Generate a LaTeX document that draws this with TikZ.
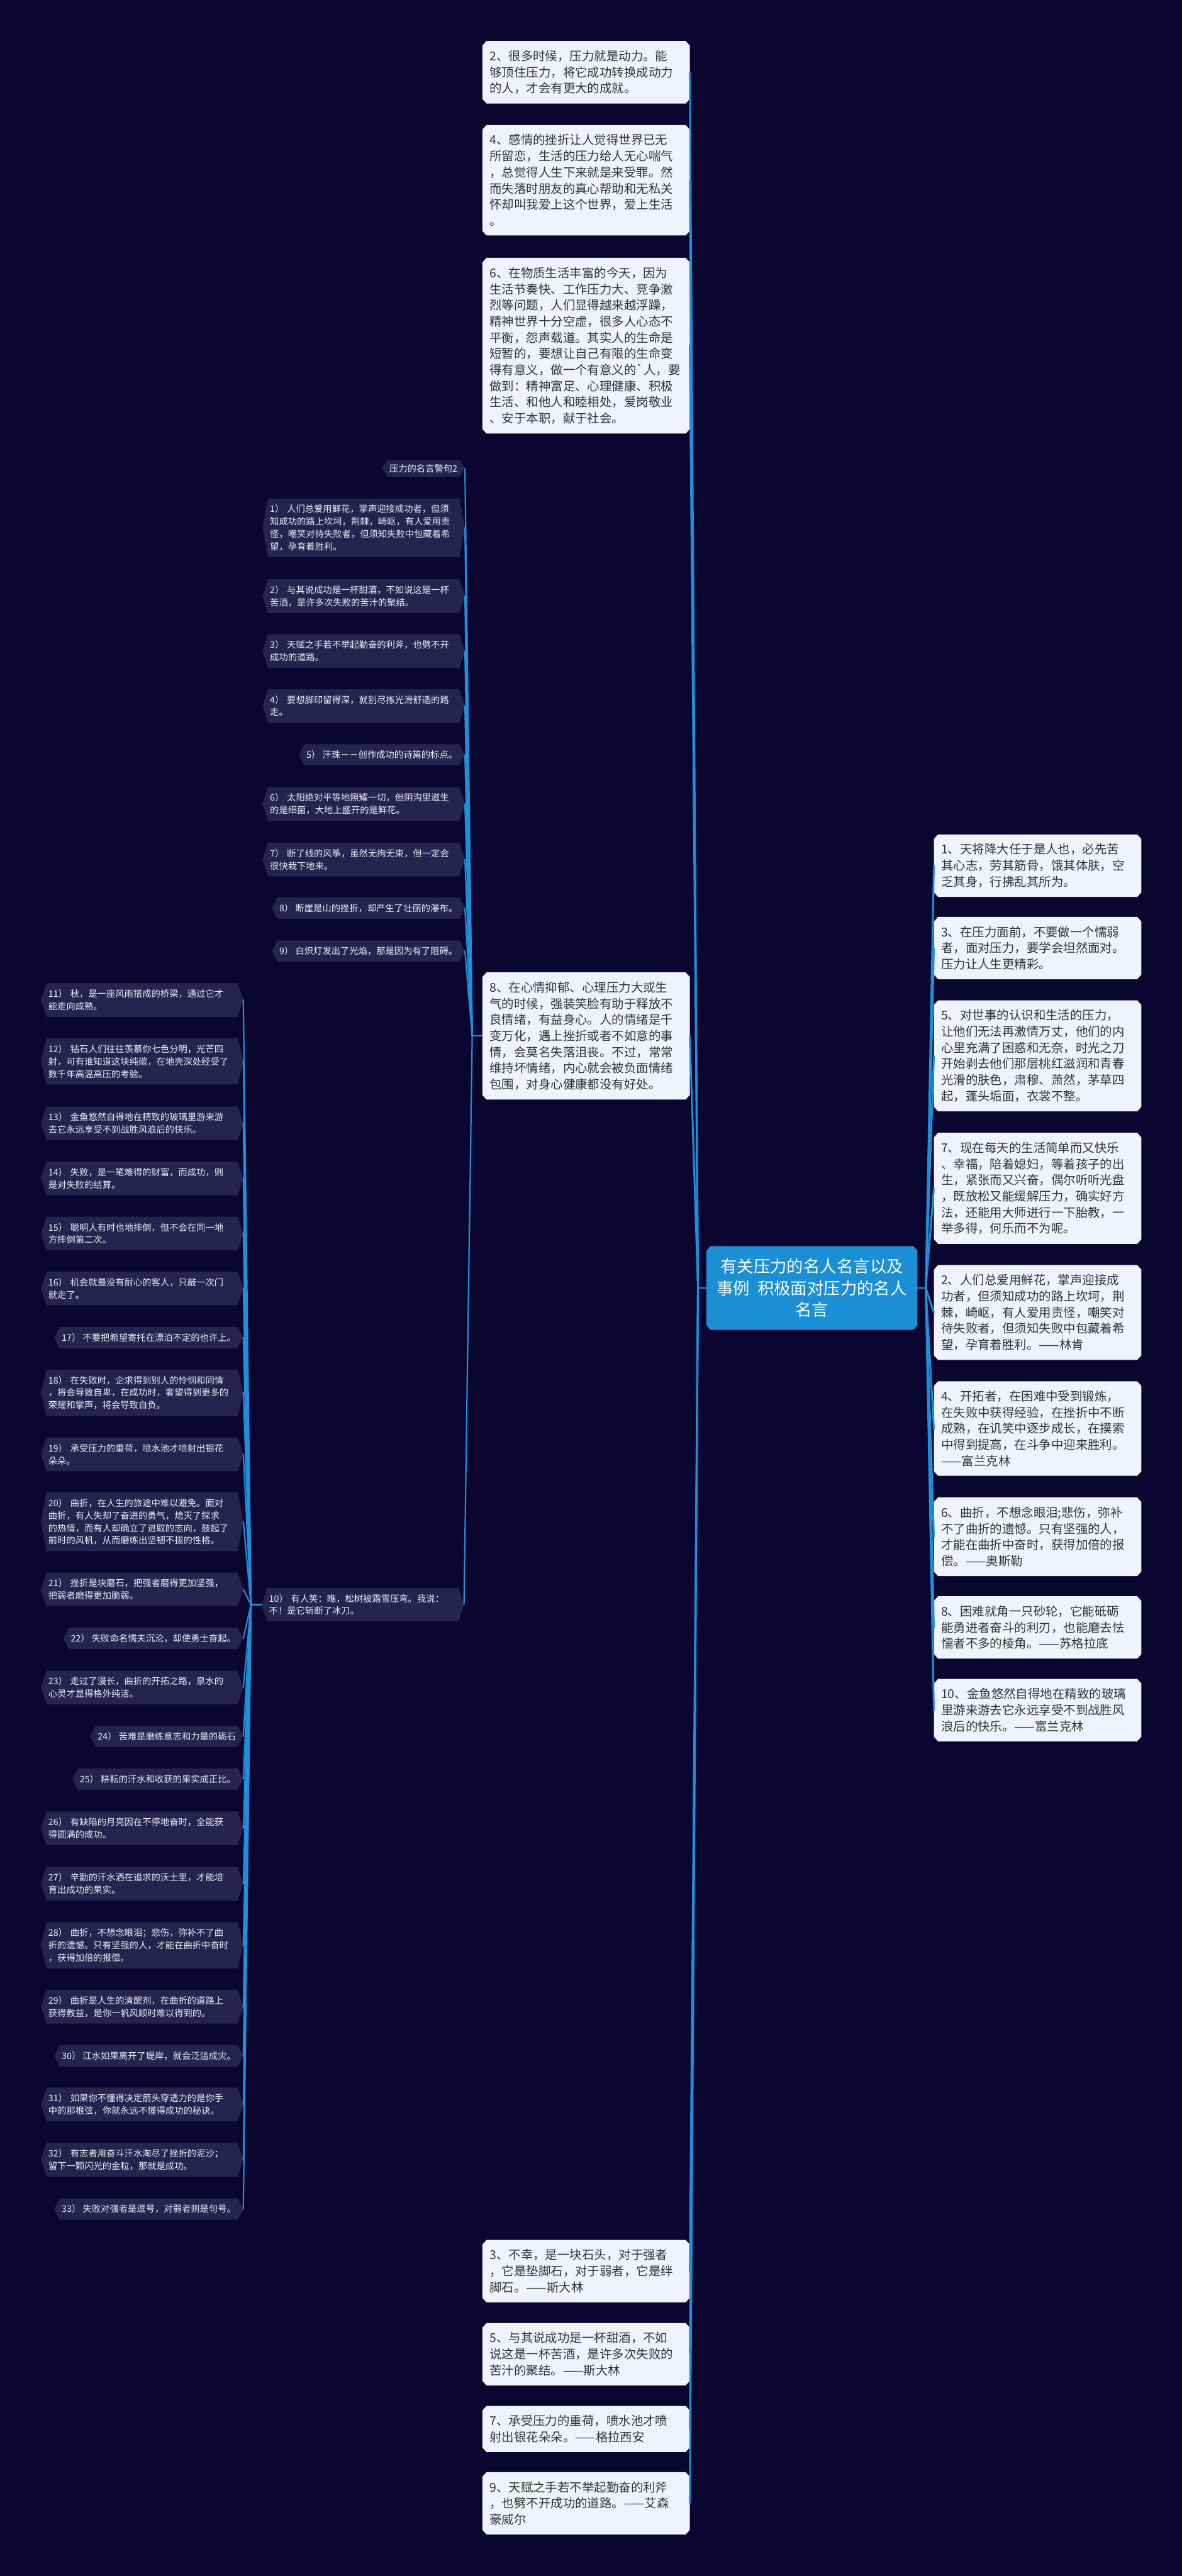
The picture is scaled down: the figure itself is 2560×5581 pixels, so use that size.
\documentclass[tikz,border=0pt]{standalone}
\usepackage{fontspec}
\setmainfont{Noto Sans CJK SC}
\usepackage{tikz}
\usetikzlibrary{calc}
\definecolor{night}{HTML}{0A0630}
\definecolor{paper}{HTML}{EEF3FD}
\definecolor{ink}{HTML}{333333}
\definecolor{slate}{HTML}{26234F}
\definecolor{chalk}{HTML}{F0F0F5}
\definecolor{wire}{HTML}{1E8FD8}
\definecolor{hub}{HTML}{1A8FD6}
\pgfdeclarelayer{bg}
\pgfdeclarelayer{boxes}
\pgfsetlayers{bg,boxes,main}
\tikzset{
  root/.style  = {text=white, font=\fontsize{36}{47}\selectfont, align=center,
                  minimum width=457pt, minimum height=181pt, inner sep=0pt},
  card/.style  = {text=ink, font=\fontsize{26.5}{35}\selectfont, text width=418pt,
                  align=left, inner xsep=15.5pt, inner ysep=20pt},
  quote/.style = {text=chalk, font=\fontsize{19.5}{27}\selectfont, align=left,
                  inner xsep=16pt, inner ysep=13.5pt, anchor=east},
  long/.style  = {text width=406pt},
  link/.style  = {draw=wire, line width=4pt, line cap=round},
  twig/.style  = {draw=wire, line width=3pt, line cap=round},
}
% cut-corner card behind a node
\newcommand\cardfill[2]{%
  \begin{pgfonlayer}{boxes}
    \fill[#2] ([xshift=9pt]#1.north west) -- ([xshift=-9pt]#1.north east)
      -- ([yshift=-10pt]#1.north east) -- ([yshift=10pt]#1.south east)
      -- ([xshift=-9pt]#1.south east) -- ([xshift=9pt]#1.south west)
      -- ([yshift=10pt]#1.south west) -- ([yshift=-10pt]#1.north west) -- cycle;
  \end{pgfonlayer}}
% pointed hexagon behind a node
\newcommand\hexfill[1]{%
  \begin{pgfonlayer}{boxes}
    \fill[slate] ([xshift=12pt]#1.north west) -- ([xshift=-12pt]#1.north east)
      -- (#1.east) -- ([xshift=-12pt]#1.south east)
      -- ([xshift=12pt]#1.south west) -- (#1.west) -- cycle;
  \end{pgfonlayer}}

\begin{document}
\begin{tikzpicture}[x=1pt,y=-1pt]
  \begin{pgfonlayer}{bg}
    \fill[night] (0,0) rectangle (2560,5581);
  \end{pgfonlayer}
  \useasboundingbox (0,0) rectangle (2560,5581);
  % root
  \node[root] (root) at (1758.5,2790.5) {有关压力的名人名言以及\\事例\ \ 积极面对压力的名人\\名言};
  \cardfill{root}{hub}
  % left cards
  \node[card] (a2) at (1269.5,156.5) {2、很多时候，压力就是动力。能\\够顶住压力，将它成功转换成动力\\的人，才会有更大的成就。};
  \node[card] (a4) at (1269.5,390.5) {4、感情的挫折让人觉得世界已无\\所留恋，生活的压力给人无心喘气\\，总觉得人生下来就是来受罪。然\\而失落时朋友的真心帮助和无私关\\怀却叫我爱上这个世界，爱上生活\\。};
  \node[card] (a6) at (1269.5,749) {6、在物质生活丰富的今天，因为\\生活节奏快、工作压力大、竞争激\\烈等问题，人们显得越来越浮躁，\\精神世界十分空虚，很多人心态不\\平衡，怨声载道。其实人的生命是\\短暂的，要想让自己有限的生命变\\得有意义，做一个有意义的\textasciigrave 人，要\\做到：精神富足、心理健康、积极\\生活、和他人和睦相处，爱岗敬业\\、安于本职，献于社会。};
  \node[card] (a8) at (1269.5,2244.5) {8、在心情抑郁、心理压力大或生\\气的时候，强装笑脸有助于释放不\\良情绪，有益身心。人的情绪是千\\变万化，遇上挫折或者不如意的事\\情，会莫名失落沮丧。不过，常常\\维持坏情绪，内心就会被负面情绪\\包围，对身心健康都没有好处。};
  \node[card] (b3) at (1269.5,4920.5) {3、不幸，是一块石头，对于强者\\，它是垫脚石，对于弱者，它是绊\\脚石。——斯大林};
  \node[card] (b5) at (1269.5,5100.5) {5、与其说成功是一杯甜酒，不如\\说这是一杯苦酒，是许多次失败的\\苦汁的聚结。——斯大林};
  \node[card] (b7) at (1269.5,5262.5) {7、承受压力的重荷，喷水池才喷\\射出银花朵朵。——格拉西安};
  \node[card] (b9) at (1269.5,5423.5) {9、天赋之手若不举起勤奋的利斧\\，也劈不开成功的道路。——艾森\\豪威尔};
  % right cards
  \node[card] (r1) at (2247.5,1875.5) {1、天将降大任于是人也，必先苦\\其心志，劳其筋骨，饿其体肤，空\\乏其身，行拂乱其所为。};
  \node[card] (r3) at (2247.5,2054) {3、在压力面前，不要做一个懦弱\\者，面对压力，要学会坦然面对。\\压力让人生更精彩。};
  \node[card] (r5) at (2247.5,2287.5) {5、对世事的认识和生活的压力，\\让他们无法再激情万丈，他们的内\\心里充满了困惑和无奈，时光之刀\\开始剥去他们那层桃红滋润和青春\\光滑的肤色，肃穆、萧然，茅草四\\起，蓬头垢面，衣裳不整。};
  \node[card] (r7) at (2247.5,2574.5) {7、现在每天的生活简单而又快乐\\、幸福，陪着媳妇，等着孩子的出\\生，紧张而又兴奋，偶尔听听光盘\\，既放松又能缓解压力，确实好方\\法，还能用大师进行一下胎教，一\\举多得，何乐而不为呢。};
  \node[card] (s2) at (2247.5,2843.5) {2、人们总爱用鲜花，掌声迎接成\\功者，但须知成功的路上坎坷，荆\\棘，崎岖，有人爱用责怪，嘲笑对\\待失败者，但须知失败中包藏着希\\望，孕育着胜利。——林肯};
  \node[card] (s4) at (2247.5,3095) {4、开拓者，在困难中受到锻炼，\\在失败中获得经验，在挫折中不断\\成熟，在讥笑中逐步成长，在摸索\\中得到提高，在斗争中迎来胜利。\\——富兰克林};
  \node[card] (s6) at (2247.5,3329.5) {6、曲折，不想念眼泪;悲伤，弥补\\不了曲折的遗憾。只有坚强的人，\\才能在曲折中奋时，获得加倍的报\\偿。——奥斯勒};
  \node[card] (s8) at (2247.5,3526) {8、困难就角一只砂轮，它能砥砺\\能勇进者奋斗的利刃，也能磨去怯\\懦者不多的棱角。——苏格拉底};
  \node[card] (s10) at (2247.5,3705) {10、金鱼悠然自得地在精致的玻璃\\里游来游去它永远享受不到战胜风\\浪后的快乐。——富兰克林};
  \foreach \n in {a2,a4,a6,a8,b3,b5,b7,b9,r1,r3,r5,r7,s2,s4,s6,s8,s10}
    {\cardfill{\n}{paper}}
  % quotes under card 8
  \node[quote, inner ysep=9pt] (t0) at (1007,1015) {压力的名言警句2};
  \node[quote, long] (q1) at (1007,1143.5) {1）\ 人们总爱用鲜花，掌声迎接成功者，但须\\知成功的路上坎坷，荆棘，崎岖，有人爱用责\\怪，嘲笑对待失败者，但须知失败中包藏着希\\望，孕育着胜利。};
  \node[quote, long] (q2) at (1007,1291.5) {2）\ 与其说成功是一杯甜酒，不如说这是一杯\\苦酒，是许多次失败的苦汁的聚结。};
  \node[quote, long] (q3) at (1007,1410.5) {3）\ 天赋之手若不举起勤奋的利斧，也劈不开\\成功的道路。};
  \node[quote, long] (q4) at (1007,1529.5) {4）\ 要想脚印留得深，就别尽拣光滑舒适的路\\走。};
  \node[quote] (q5) at (1007,1635.5) {5）\ 汗珠－－创作成功的诗篇的标点。};
  \node[quote, long] (q6) at (1007,1742) {6）\ 太阳绝对平等地照耀一切，但阴沟里滋生\\的是细菌，大地上盛开的是鲜花。};
  \node[quote, long] (q7) at (1007,1862) {7）\ 断了线的风筝，虽然无拘无束，但一定会\\很快栽下地来。};
  \node[quote] (q8) at (1007,1967.5) {8）\ 断崖是山的挫折，却产生了壮丽的瀑布。};
  \node[quote] (q9) at (1007,2060.5) {9）\ 白炽灯发出了光焰，那是因为有了阻碍。};
  \node[quote, long] (q10) at (1005,3476.5) {10）\ 有人笑：瞧，松树被霜雪压弯。我说：\\不！是它斩断了冰刀。};
  % quotes under 10)
  \node[quote, long] (q11) at (527,2166.5) {11）\ 秋，是一座风雨搭成的桥梁，通过它才\\能走向成熟。};
  \node[quote, long] (q12) at (527,2299.5) {12）\ 钻石人们往往羡慕你七色分明，光芒四\\射，可有谁知道这块纯碳，在地壳深处经受了\\数千年高温高压的考验。};
  \node[quote, long] (q13) at (527,2433.5) {13）\ 金鱼悠然自得地在精致的玻璃里游来游\\去它永远享受不到战胜风浪后的快乐。};
  \node[quote, long] (q14) at (527,2553) {14）\ 失败，是一笔难得的财富，而成功，则\\是对失败的结算。};
  \node[quote, long] (q15) at (527,2672.5) {15）\ 聪明人有时也地摔倒，但不会在同一地\\方摔倒第二次。};
  \node[quote, long] (q16) at (527,2791.5) {16）\ 机会就最没有耐心的客人，只敲一次门\\就走了。};
  \node[quote] (q17) at (527,2898) {17）\ 不要把希望寄托在漂泊不定的也许上。};
  \node[quote, long] (q18) at (527,3017.5) {18）\ 在失败时，企求得到别人的怜悯和同情\\，将会导致自卑，在成功时，奢望得到更多的\\荣耀和掌声，将会导致自负。};
  \node[quote, long] (q19) at (527,3151) {19）\ 承受压力的重荷，喷水池才喷射出银花\\朵朵。};
  \node[quote, long] (q20) at (527,3297) {20）\ 曲折，在人生的旅途中难以避免。面对\\曲折，有人失却了奋进的勇气，熄灭了探求\\的热情，而有人却确立了进取的志向，鼓起了\\前时的风帆，从而磨练出坚韧不拔的性格。};
  \node[quote, long] (q21) at (527,3443.5) {21）\ 挫折是块磨石，把强者磨得更加坚强，\\把弱者磨得更加脆弱。};
  \node[quote] (q22) at (527,3549.5) {22）\ 失败命名懦夫沉沦，却使勇士奋起。};
  \node[quote, long] (q23) at (527,3656) {23）\ 走过了漫长，曲折的开拓之路，泉水的\\心灵才显得格外纯洁。};
  \node[quote] (q24) at (527,3761.5) {24）\ 苦难是磨练意志和力量的砺石};
  \node[quote] (q25) at (527,3854.5) {25）\ 耕耘的汗水和收获的果实成正比。};
  \node[quote, long] (q26) at (527,3961) {26）\ 有缺陷的月亮因在不停地奋时，全能获\\得圆满的成功。};
  \node[quote, long] (q27) at (527,4081) {27）\ 辛勤的汗水洒在追求的沃土里，才能培\\育出成功的果实。};
  \node[quote, long] (q28) at (527,4214.5) {28）\ 曲折，不想念眼泪；悲伤，弥补不了曲\\折的遗憾。只有坚强的人，才能在曲折中奋时\\，获得加倍的报偿。};
  \node[quote, long] (q29) at (527,4347.5) {29）\ 曲折是人生的清醒剂，在曲折的道路上\\获得教益，是你一帆风顺时难以得到的。};
  \node[quote] (q30) at (527,4454) {30）\ 江水如果离开了堤岸，就会泛滥成灾。};
  \node[quote, long] (q31) at (527,4559.5) {31）\ 如果你不懂得决定箭头穿透力的是你手\\中的那根弦，你就永远不懂得成功的秘诀。};
  \node[quote, long] (q32) at (527,4679) {32）\ 有志者用奋斗汗水淘尽了挫折的泥沙；\\留下一颗闪光的金粒，那就是成功。};
  \node[quote] (q33) at (527,4786) {33）\ 失败对强者是逗号，对弱者则是句号。};
  \foreach \n in {t0,q1,q2,q3,q4,q5,q6,q7,q8,q9,q10,q11,q12,q13,q14,q15,q16,q17,q18,q19,q20,q21,q22,q23,q24,q25,q26,q27,q28,q29,q30,q31,q32,q33}
    {\hexfill{\n}}
  % links from the root
  \draw[link] (root.west) -- ++(-18,0) coordinate (hubL);
  \foreach \n in {a2,a4,a6,a8,b3,b5,b7,b9}
    \draw[link] (hubL) -- (\n.east);
  \draw[link] (root.east) -- ++(18,0) coordinate (hubR);
  \foreach \n in {r1,r3,r5,r7,s2,s4,s6,s8,s10}
    \draw[link] (hubR) -- (\n.west);
  % links from card 8 and from 10)
  \draw[twig] (a8.west) -- ++(-22,0) coordinate (hubM);
  \foreach \n in {t0,q1,q2,q3,q4,q5,q6,q7,q8,q9,q10}
    \draw[twig] (hubM) -- (\n.east);
  \draw[twig] (q10.west) -- ++(-23,0) coordinate (hubN);
  \foreach \n in {q11,q12,q13,q14,q15,q16,q17,q18,q19,q20,q21,q22,q23,q24,q25,q26,q27,q28,q29,q30,q31,q32,q33}
    \draw[twig] (hubN) -- (\n.east);
\end{tikzpicture}
\end{document}
